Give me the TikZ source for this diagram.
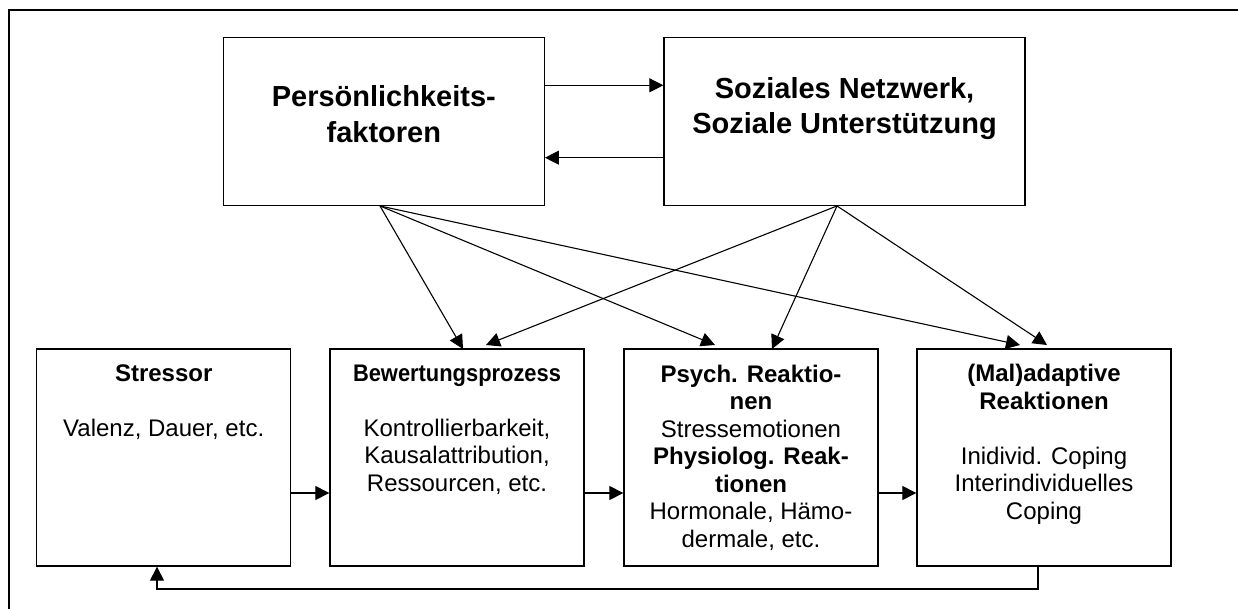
\documentclass[tikz,border=0pt]{standalone}
\usepackage{fontspec}
\setmainfont{Liberation Sans}
\usepackage{graphicx}
\usetikzlibrary{arrows.meta}
\begin{document}
\begin{tikzpicture}[x=1pt,y=-1pt,
  box/.style={draw, line width=1.3pt, inner sep=0pt},
  arr/.style={line width=1.1pt, -{Triangle[length=14pt,width=14pt]}},
  ttxt/.style={inner sep=0pt, align=center, anchor=north, font=\fontsize{29}{35.6}\selectfont\bfseries},
  ltxt/.style={inner sep=0pt, align=center, anchor=north, font=\fontsize{24}{27.5}\selectfont}]
\useasboundingbox (0,0) rectangle (1238,609);
\clip (0,0) rectangle (1238,609);
% outer frame (cut at right and bottom)
\draw[line width=2pt] (9,10) rectangle (1300,700);

% top boxes
\node[box, minimum width=321pt, minimum height=168pt] (pers) at (383.8,121.3) {};
\node[box, minimum width=361pt, minimum height=168pt] (soz) at (844.5,121.3) {};
\node[ttxt] (perst) at (383.8,85.3) {Persönlichkeits-\\faktoren};
\node[ttxt] (sozt) at (844.5,76.8) {Soziales Netzwerk,\\Soziale Unterstützung};

% bottom boxes
\node[box, minimum width=254pt, minimum height=217pt] (str) at (163.7,457.5) {};
\node[box, minimum width=254pt, minimum height=217pt] (bew) at (457,457.5) {};
\node[box, minimum width=254pt, minimum height=217pt] (psy) at (751,457.5) {};
\node[box, minimum width=254pt, minimum height=217pt] (mal) at (1044,457.5) {};

\node[ltxt] (strt) at (163.7,364.5) {\textbf{Stressor}\\[27.5pt]Valenz, Dauer, etc.};
\node[ltxt] (bewt) at (457,364.5) {\scalebox{0.912}[1]{\textbf{Bewertungsprozess}}\\[27.5pt]Kontrollierbarkeit,\\Kausalattribution,\\Ressourcen, etc.};
\node[ltxt] (psyt) at (751,364.5) {\textbf{Psych. Reaktio-}\\\textbf{nen}\\Stressemotionen\\\textbf{Physiolog. Reak-}\\\textbf{tionen}\\Hormonale, Hämo-\\dermale, etc.};
\node[ltxt] (malt) at (1044,364) {\textbf{(Mal)adaptive}\\\textbf{Reaktionen}\\[27.5pt]Inidivid. Coping\\Interindividuelles\\Coping};

% helper coordinates
\coordinate (ya) at (0,85.3);
\coordinate (yb) at (0,157.7);
\coordinate (yh) at (0,493);
\coordinate (pO) at (380,205.3);
\coordinate (sO) at (837,205.3);
\coordinate (bewA) at (463,349);
\coordinate (bewB) at (486,345);
\coordinate (psyA) at (715,345);
\coordinate (psyB) at (772,349);
\coordinate (malA) at (1020,345);
\coordinate (malB) at (1047,345);
\coordinate (fbR) at (1038,589);
\coordinate (fbL) at (157,589);

% top arrows
\draw[arr] (pers.east |- ya) -- (soz.west |- ya);
\draw[arr] (soz.west |- yb) -- (pers.east |- yb);

% diagonal arrows
\draw[arr] (pers.south -| pO) -- (bewA);
\draw[arr] (pers.south -| pO) -- (psyA);
\draw[arr] (pers.south -| pO) -- (malA);
\draw[arr] (soz.south -| sO) -- (bewB);
\draw[arr] (soz.south -| sO) -- (psyB);
\draw[arr] (soz.south -| sO) -- (malB);

% horizontal arrows
\draw[arr] (str.east |- yh) -- (bew.west |- yh);
\draw[arr] (bew.east |- yh) -- (psy.west |- yh);
\draw[arr] (psy.east |- yh) -- (mal.west |- yh);

% feedback
\draw[arr] (mal.south -| fbR) -- (fbR) -- (fbL) -- (str.south -| fbL);
\end{tikzpicture}
\end{document}
